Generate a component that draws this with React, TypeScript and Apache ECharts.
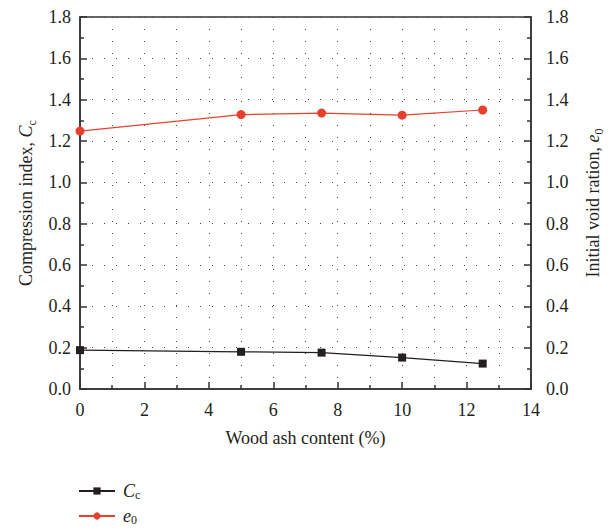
import React, { useEffect, useRef } from "react";
import * as echarts from "echarts";

const woodAsh = [0, 5, 7.5, 10, 12.5];
const ccValues = [0.188, 0.18, 0.176, 0.152, 0.123];
const e0Values = [1.248, 1.328, 1.335, 1.325, 1.35];
const xTicks = [0, 2, 4, 6, 8, 10, 12, 14];
const yTicks = [0, 0.2, 0.4, 0.6, 0.8, 1.0, 1.2, 1.4, 1.6, 1.8];

const FONT = "'Liberation Serif', 'DejaVu Serif', serif";
const TXT = "#231f20";
const RED = "#e8402c";
const BLACK = "#231f20";

const rich = {
  n: { fontFamily: FONT, fontSize: 18, color: TXT, lineHeight: 24, verticalAlign: "middle" as const },
  i: { fontFamily: FONT, fontSize: 18, color: TXT, fontStyle: "italic" as const, lineHeight: 24, verticalAlign: "middle" as const },
  s: { fontFamily: FONT, fontSize: 12, color: TXT, lineHeight: 13, verticalAlign: "bottom" as const },
};

const legendRich = {
  i: { fontFamily: FONT, fontSize: 18, color: TXT, fontStyle: "italic" as const, lineHeight: 20, verticalAlign: "middle" as const, padding: [0, 0, 0, 3] },
  s: { fontFamily: FONT, fontSize: 12, color: TXT, lineHeight: 11, verticalAlign: "bottom" as const },
};

export default function App() {
  const ref = useRef<HTMLDivElement>(null);
  useEffect(() => {
    if (!ref.current) return;
    const chart = echarts.init(ref.current, null, { renderer: "svg" });
    const yAxisCommon = {
      type: "value" as const,
      min: yTicks[0],
      max: yTicks[yTicks.length - 1],
      interval: 0.2,
      axisLine: { show: true, lineStyle: { color: "#333", width: 1.5 } },
      axisTick: { show: true, inside: true, length: 7, lineStyle: { color: "#333", width: 1.5 } },
      minorTick: { show: true, splitNumber: 2, length: 4, lineStyle: { color: "#333", width: 1.5 } },
      axisLabel: {
        fontFamily: FONT,
        fontSize: 18,
        color: TXT,
        formatter: (v: number) => v.toFixed(1),
      },
      nameLocation: "middle" as const,
      nameRotate: 90,
      nameTextStyle: { rich },
    };
    const legendCommon = {
      orient: "horizontal" as const,
      left: 78,
      padding: 0,
      itemWidth: 36,
      itemHeight: 9,
      formatter: (name: string) => (name === "Cc" ? "{i|C}{s|c}" : "{i|e}{s|0}"),
      textStyle: { rich: legendRich, fontFamily: FONT, fontSize: 18, color: TXT },
    };
    chart.setOption({
      animation: false,
      backgroundColor: "#fff",
      grid: {
        left: 80,
        right: 78,
        top: 17,
        bottom: 141,
        show: true,
        borderColor: "#333",
        borderWidth: 1.5,
        backgroundColor: "transparent",
      },
      xAxis: {
        type: "value",
        min: xTicks[0],
        max: xTicks[xTicks.length - 1],
        interval: 2,
        name: "Wood ash content (%)",
        nameLocation: "middle",
        nameGap: 40,
        nameTextStyle: { fontFamily: FONT, fontSize: 18, color: TXT },
        axisLine: { show: true, onZero: false, lineStyle: { color: "#333", width: 1.5 } },
        axisTick: { show: true, inside: true, length: 7, lineStyle: { color: "#333", width: 1.5 } },
        minorTick: { show: true, splitNumber: 2, length: 4, lineStyle: { color: "#333", width: 1.5 } },
        axisLabel: { fontFamily: FONT, fontSize: 18, color: TXT, margin: 12 },
        splitLine: { show: true, lineStyle: { color: "#444", width: 1, type: [1, 11] } },
        minorSplitLine: { show: true, lineStyle: { color: "#444", width: 1, type: [1, 11] } },
      },
      yAxis: [
        {
          ...yAxisCommon,
          position: "left",
          name: "{n|Compression index, }{i|C}{s|c}",
          nameGap: 41,
          axisLabel: { ...yAxisCommon.axisLabel, margin: 9 },
          splitLine: { show: true, lineStyle: { color: "#444", width: 1, type: [1, 11] } },
        },
        {
          ...yAxisCommon,
          position: "right",
          name: "{n|Initial void ration, }{i|e}{s|0}",
          nameGap: 50,
          axisLabel: { ...yAxisCommon.axisLabel, margin: 15 },
          splitLine: { show: false },
        },
      ],
      legend: [
        { ...legendCommon, top: 482, data: ["Cc"] },
        { ...legendCommon, top: 507, data: ["e0"] },
      ],
      series: [
        {
          name: "Cc",
          type: "line",
          yAxisIndex: 0,
          data: woodAsh.map((x, i) => [x, ccValues[i]]),
          symbol: "rect",
          symbolSize: 8,
          itemStyle: { color: BLACK },
          lineStyle: { color: BLACK, width: 1.2 },
        },
        {
          name: "e0",
          type: "line",
          yAxisIndex: 1,
          data: woodAsh.map((x, i) => [x, e0Values[i]]),
          symbol: "circle",
          symbolSize: 9,
          itemStyle: { color: RED },
          lineStyle: { color: RED, width: 1.2 },
        },
      ],
    });
    return () => chart.dispose();
  }, []);
  return <div ref={ref} style={{ width: 613, height: 530, position: "absolute", left: 0, top: 0 }} />;
}
